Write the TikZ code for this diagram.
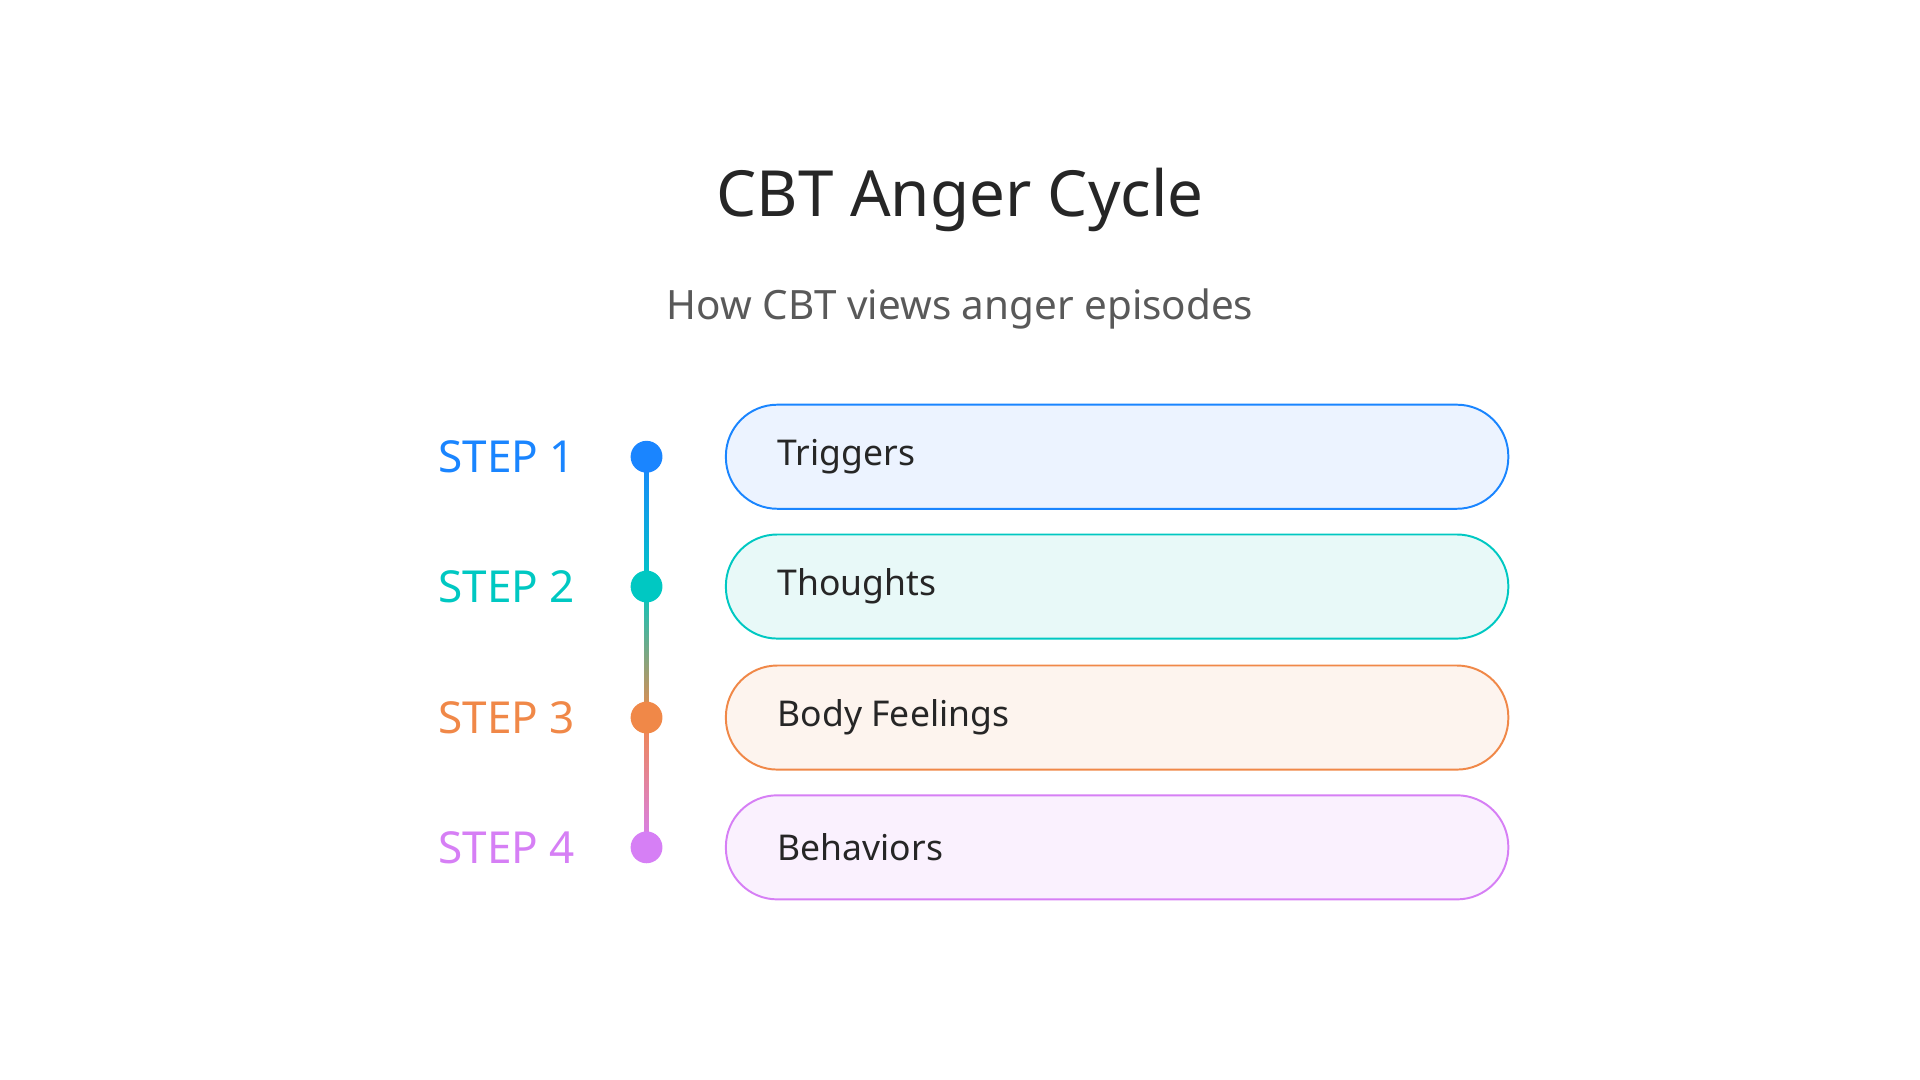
\documentclass[tikz,border=0pt]{standalone}
\usepackage{fontspec}
\setmainfont{Noto Sans}
\definecolor{cA}{HTML}{1A85FF}
\definecolor{cB}{HTML}{00C8C2}
\definecolor{cC}{HTML}{F08848}
\definecolor{cD}{HTML}{D67FF5}
\definecolor{fA}{HTML}{ECF3FF}
\definecolor{fB}{HTML}{E8F9F8}
\definecolor{fC}{HTML}{FDF4EE}
\definecolor{fD}{HTML}{FAF1FE}
\begin{document}
\begin{tikzpicture}[x=1pt,y=-1pt,
  steplab/.style={font=\fontsize{36}{40}\selectfont\bfseries,anchor=west,inner sep=0},
  dot/.style={circle,minimum size=26,inner sep=0},
  box/.style={rounded corners=42,line width=1.6,minimum width=639,minimum height=85,anchor=west,inner sep=0},
  lab/.style={font=\fontsize{29}{34}\selectfont,text=black!85,anchor=west,inner sep=0}]
\useasboundingbox (0,0) rectangle (1568,882);
\node (title) at (784,163) {\fontsize{52}{60}\selectfont\color{black!85}CBT Anger Cycle};
\node (sub) at (784,252) {\fontsize{33}{40}\selectfont\color{black!65}How CBT views anger episodes};
\foreach \i/\y/\c/\f/\t in {1/373/cA/fA/Triggers,2/479/cB/fB/Thoughts,3/586/cC/fC/Body Feelings,4/692/cD/fD/Behaviors}{
  \node[steplab,text=\c] (s\i) at (358,\y) {STEP \i};
  \node[box,draw=\c,fill=\f] (b\i) at (592,\y) {};
  \node[lab] (l\i) at (635,\y) {\t};
}
\shade[top color=cA,bottom color=cB] (526.5,373) rectangle (529.5,479);
\shade[top color=cB,bottom color=cC] (526.5,479) rectangle (529.5,586);
\shade[top color=cC,bottom color=cD] (526.5,586) rectangle (529.5,692);
\foreach \i/\y/\c in {1/373/cA,2/479/cB,3/586/cC,4/692/cD}
  \node[dot,fill=\c] (d\i) at (528,\y) {};
\end{tikzpicture}
\end{document}
